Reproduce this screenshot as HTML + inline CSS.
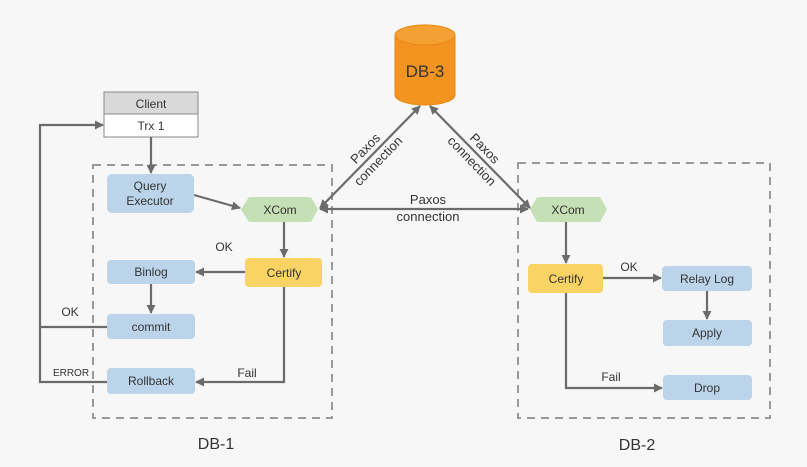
<!DOCTYPE html>
<html><head><meta charset="utf-8"><style>
html,body{margin:0;padding:0;background:#f7f7f7;}
svg{display:block;}
text{font-family:"Liberation Sans",sans-serif;fill:#333;}
</style></head><body>
<svg width="807" height="467" viewBox="0 0 807 467" xmlns="http://www.w3.org/2000/svg">
<defs>
<marker id="a" viewBox="0 0 10 10" refX="9" refY="5" markerWidth="9" markerHeight="9" markerUnits="userSpaceOnUse" orient="auto-start-reverse"><path d="M0,0 L10,5 L0,10 z" fill="#6b6b6b"/></marker>
</defs>
<rect width="807" height="467" fill="#f7f7f7"/>
<rect x="93" y="165" width="239" height="253" fill="none" stroke="#999" stroke-width="2" stroke-dasharray="8,6"/>
<rect x="518" y="163" width="252" height="255" fill="none" stroke="#999" stroke-width="2" stroke-dasharray="8,6"/>
<rect x="104" y="92" width="94" height="22" fill="#d9d9d9" stroke="#888" stroke-width="1"/>
<rect x="104" y="114" width="94" height="23" fill="#fff" stroke="#888" stroke-width="1"/>
<text x="151" y="108" font-size="12" text-anchor="middle">Client</text>
<text x="151" y="130" font-size="12" text-anchor="middle">Trx 1</text>
<path d="M395,35 L395,95 A30,10 0 0 0 455,95 L455,35" fill="#f39320" stroke="#e8870f"/>
<ellipse cx="425" cy="35" rx="30" ry="10" fill="#f5a033" stroke="#e8870f"/>
<text x="425" y="77" font-size="17" text-anchor="middle">DB-3</text>
<g stroke="#6b6b6b" stroke-width="2.2" fill="none">
<line x1="420" y1="106" x2="320" y2="208" marker-start="url(#a)" marker-end="url(#a)"/>
<line x1="430" y1="106" x2="530" y2="208" marker-start="url(#a)" marker-end="url(#a)"/>
<line x1="320" y1="209" x2="528" y2="209" marker-start="url(#a)" marker-end="url(#a)"/>
<line x1="151" y1="137" x2="151" y2="173" marker-end="url(#a)"/>
<line x1="194" y1="195" x2="240" y2="208" marker-end="url(#a)"/>
<line x1="284" y1="222" x2="284" y2="257" marker-end="url(#a)"/>
<line x1="245" y1="272" x2="196" y2="272" marker-end="url(#a)"/>
<line x1="151" y1="284" x2="151" y2="313" marker-end="url(#a)"/>
<polyline points="284,287 284,382 196,382" marker-end="url(#a)"/>
<polyline points="107,382 40,382 40,125 103,125" marker-end="url(#a)"/>
<line x1="40" y1="327" x2="107" y2="327"/>
<line x1="566" y1="222" x2="566" y2="263" marker-end="url(#a)"/>
<line x1="603" y1="278" x2="661" y2="278" marker-end="url(#a)"/>
<line x1="707" y1="291" x2="707" y2="319" marker-end="url(#a)"/>
<polyline points="566,293 566,388 662,388" marker-end="url(#a)"/>
</g>
<rect x="107" y="174" width="87" height="39" rx="5" fill="#bcd4ea"/>
<text x="150" y="190" font-size="12" text-anchor="middle">Query</text>
<text x="150" y="205" font-size="12" text-anchor="middle">Executor</text>
<polygon points="241,209.5 249,197 311,197 318,209.5 311,222 249,222" fill="#c5e0b4"/>
<text x="280" y="214" font-size="12" text-anchor="middle">XCom</text>
<rect x="245" y="258" width="77" height="29" rx="4" fill="#f9d465"/>
<text x="284" y="277" font-size="12" text-anchor="middle">Certify</text>
<rect x="107" y="260" width="88" height="24" rx="4" fill="#bcd4ea"/>
<text x="151" y="276" font-size="12" text-anchor="middle">Binlog</text>
<rect x="107" y="314" width="88" height="25" rx="4" fill="#bcd4ea"/>
<text x="151" y="331" font-size="12" text-anchor="middle">commit</text>
<rect x="107" y="368" width="88" height="26" rx="4" fill="#bcd4ea"/>
<text x="151" y="385" font-size="12" text-anchor="middle">Rollback</text>
<text x="224" y="251" font-size="12" text-anchor="middle">OK</text>
<text x="70" y="316" font-size="12" text-anchor="middle">OK</text>
<text x="71" y="376" font-size="10" text-anchor="middle">ERROR</text>
<text x="247" y="377" font-size="12" text-anchor="middle">Fail</text>
<polygon points="530,209.5 537,197 600,197 607,209.5 600,222 537,222" fill="#c5e0b4"/>
<text x="568" y="214" font-size="12" text-anchor="middle">XCom</text>
<rect x="528" y="264" width="75" height="29" rx="4" fill="#f9d465"/>
<text x="566" y="283" font-size="12" text-anchor="middle">Certify</text>
<rect x="662" y="266" width="90" height="25" rx="4" fill="#bcd4ea"/>
<text x="707" y="283" font-size="12" text-anchor="middle">Relay Log</text>
<rect x="663" y="320" width="89" height="26" rx="4" fill="#bcd4ea"/>
<text x="707" y="337" font-size="12" text-anchor="middle">Apply</text>
<rect x="663" y="375" width="89" height="25" rx="4" fill="#bcd4ea"/>
<text x="707" y="392" font-size="12" text-anchor="middle">Drop</text>
<text x="629" y="271" font-size="12" text-anchor="middle">OK</text>
<text x="611" y="381" font-size="12" text-anchor="middle">Fail</text>
<g transform="translate(372,155) rotate(-46)">
<text x="0" y="-5" font-size="13" text-anchor="middle">Paxos</text>
<text x="0" y="13" font-size="13" text-anchor="middle">connection</text>
</g>
<g transform="translate(478,155) rotate(46)">
<text x="0" y="-5" font-size="13" text-anchor="middle">Paxos</text>
<text x="0" y="13" font-size="13" text-anchor="middle">connection</text>
</g>
<text x="428" y="204" font-size="13" text-anchor="middle">Paxos</text>
<text x="428" y="221" font-size="13" text-anchor="middle">connection</text>
<text x="216" y="449" font-size="16" text-anchor="middle">DB-1</text>
<text x="637" y="450" font-size="16" text-anchor="middle">DB-2</text>
</svg>
</body></html>
